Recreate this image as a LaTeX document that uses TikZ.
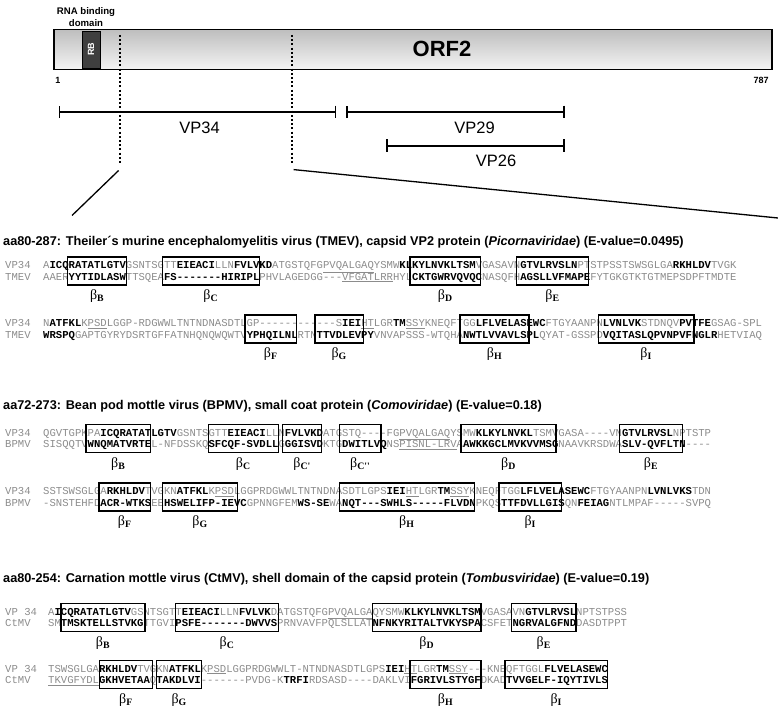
\documentclass[tikz,border=0pt]{standalone}
\usepackage{fontspec}
\setmainfont{Liberation Sans}
\setmonofont{Liberation Mono}
\newfontfamily\grkfont{Liberation Serif}
\usetikzlibrary{arrows.meta,positioning}
\definecolor{seqgrey}{HTML}{8C8C8C}
\definecolor{barhi}{HTML}{F4F4F4}
\definecolor{barlo}{HTML}{BEBEBE}
\definecolor{rbgrey}{HTML}{3F3F3F}
\newcommand{\hb}[1]{{\bfseries\color{black}#1}}
\newcommand{\ud}[1]{\underline{#1}}
\newcommand{\bst}[1]{{\grkfont β\textsubscript{\bfseries #1}}}

\begin{document}
\begin{tikzpicture}[x=1pt,y=-1pt,
  seq/.style={anchor=base west,inner sep=0pt,font=\ttfamily\fontsize{10.6}{10.6}\selectfont,text=seqgrey},
  ttl/.style={anchor=base west,inner sep=0pt,font=\bfseries\fontsize{12.7}{14}\selectfont},
  sbox/.style={draw,line width=1.4pt,inner sep=0pt,minimum height=28pt},
  blab/.style={inner sep=0pt,font=\fontsize{14}{14}\selectfont},
  vplab/.style={font=\fontsize{16.5}{16.5}\selectfont},
  endnum/.style={font=\bfseries\fontsize{9}{9}\selectfont},
  prodline/.style={line width=1.8pt,{Bar[width=12.5pt]}-{Bar[width=12.5pt]}},
  cutline/.style={line width=2pt,dash pattern=on 2pt off 2.2pt},
  zoomline/.style={line width=1.3pt},
]
\useasboundingbox (0,0) rectangle (778,711);

% ORF2 bar
\node[draw=black,line width=1.3pt,top color=barlo,bottom color=barhi,
      minimum width=718pt,minimum height=40pt,inner sep=0pt] (orf) at (413,49.5) {};
\node[font=\bfseries\fontsize{22}{22}\selectfont] (orfname) at (442,49) {ORF2};
\node[fill=rbgrey,draw=black,line width=0.8pt,minimum width=18pt,minimum height=37pt,inner sep=0pt] (rb) at (91,49.5) {};
\node[rotate=90,text=white,font=\bfseries\fontsize{9}{9}\selectfont] (rbname) at (rb) {RB};
\node[font=\bfseries\fontsize{9.6}{11.5}\selectfont,align=center] (rbdom) at (86,17) {RNA binding\\domain};
\node[endnum] (n1) at (58,80) {1};
\node[endnum] (n787) at (761,80) {787};

% cleavage sites and zoom lines
\coordinate (c1t) at (120,35);
\coordinate (c1b) at (120,163);
\coordinate (c2t) at (292,35);
\coordinate (c2b) at (292,163);
\coordinate (z1a) at (118.6,170.5);
\coordinate (z1b) at (72,215.5);
\coordinate (z2a) at (293.6,169.6);
\coordinate (z2b) at (778,218);
\draw[cutline] (c1t) -- (c1b);
\draw[cutline] (c2t) -- (c2b);
\draw[zoomline] (z1a) -- (z1b);
\draw[zoomline] (z2a) -- (z2b);

% capsid products
\coordinate (p34a) at (58.6,111.8);
\coordinate (p34b) at (336.4,111.8);
\coordinate (p29a) at (346,111.8);
\coordinate (p29b) at (564.6,111.8);
\coordinate (p26a) at (386,145.7);
\coordinate (p26b) at (564.6,145.7);
\draw[prodline] (p34a) -- (p34b);
\draw[prodline] (p29a) -- (p29b);
\draw[prodline] (p26a) -- (p26b);
\node[vplab] (vp34) at (199.6,128) {VP34};
\node[vplab] (vp29) at (474.6,128) {VP29};
\node[vplab] (vp26) at (496,161) {VP26};

% ---- TMEV ----
\node[ttl] (t1) at (3,245.5) {aa80-287: Theiler´s murine encephalomyelitis virus (TMEV), capsid VP2 protein (\textit{Picornaviridae}) (E-value=0.0495)};
\node[seq] (n1a) at (5,268.5) {VP34};
\node[seq] (n1b) at (5,280) {TMEV};
\node[seq] (s1a) at (43,268.5) {A\hb{ICQRATATLGTV}GSNTSGTT\hb{EIEACI}LLN\hb{FVLVKD}ATGSTQFG\ud{PVQALGAQ}YSMW\hb{KLKYLNVKLTSM}VGASAVN\hb{GTVLRVSLN}PTSTPSSTSWSGLGA\hb{RKHLDV}TVGK};
\node[seq] (s1b) at (43,280) {AAER\hb{YYTIDLASW}TTSQEA\hb{FS-------HIRIPL}PHVLAGEDGG---\ud{VFGATLRR}HYL\hb{CKTGWRVQVQC}NASQFH\hb{AGSLLVFMAPE}FYTGKGTKTGTMEPSDPFTMDTE};
\node[seq] (n1c) at (5,326.5) {VP34};
\node[seq] (n1d) at (5,338) {TMEV};
\node[seq] (s1c) at (43,326.5) {N\hb{ATFKL}K\ud{PSD}LGGP-RDGWWLTNTNDNASDTLGP------------S\hb{IEI}\ud{HT}LGR\hb{TM}\ud{SSY}KNEQFTGG\hb{LFLVELASEWC}FTGYAANPN\hb{LVNLVK}STDNQV\hb{PVTFE}GSAG-SPL};
\node[seq] (s1d) at (43,338) {\hb{WRSPQ}GAPTGYRYDSRTGFFATNHQNQWQWTV\hb{YPHQILNL}RTN\hb{TTVDLEVPY}VNVAPSSS-WTQHA\hb{NWTLVVAVLSPL}QYAT-GSSPD\hb{VQITASLQPVNPVFNGLR}HETVIAQ};

\node[sbox,minimum width=59pt] (b1B) at (97.2,271) {};
\node[sbox,minimum width=97pt] (b1C) at (210.8,271) {};
\node[sbox,minimum width=70.7pt] (b1D) at (445.3,271) {};
\node[sbox,minimum width=71.6pt] (b1E) at (552.5,271) {};
\node[sbox,minimum width=51.7pt] (b1F) at (270.8,329) {};
\node[sbox,minimum width=48.3pt] (b1G) at (339.2,329) {};
\node[sbox,minimum width=69pt] (b1H) at (494.5,329) {};
\node[sbox,minimum width=95.7pt] (b1I) at (646.2,329) {};
\node[blab,below=4pt of b1B] (l1B) {\bst{B}};
\node[blab,below=4pt of b1C] (l1C) {\bst{C}};
\node[blab,below=4pt of b1D] (l1D) {\bst{D}};
\node[blab,below=4pt of b1E] (l1E) {\bst{E}};
\node[blab,below=4pt of b1F] (l1F) {\bst{F}};
\node[blab,below=4pt of b1G] (l1G) {\bst{G}};
\node[blab,below=4pt of b1H] (l1H) {\bst{H}};
\node[blab,below=4pt of b1I] (l1I) {\bst{I}};

% ---- BPMV ----
\node[ttl] (t2) at (3,409.5) {aa72-273: Bean pod mottle virus (BPMV), small coat protein (\textit{Comoviridae}) (E-value=0.18)};
\node[seq] (n2a) at (5,436) {VP34};
\node[seq] (n2b) at (5,447.5) {BPMV};
\node[seq] (s2a) at (43,436) {QGVTGPKPA\hb{ICQRATATLGTV}GSNTSGTT\hb{EIEACI}LLN\hb{FVLVKD}ATGSTQ----FG\ud{PVQALGAQ}YSMW\hb{KLKYLNVKL}TSMVGASA----VN\hb{GTVLRVSL}NPTSTP};
\node[seq] (s2b) at (43,447.5) {SISQQTV\hb{WNQMATVRTE}L-NFDSSKQ\hb{SFCQF-SVDLL}G\hb{GGISVD}KTG\hb{DWITLVQ}NS\ud{PISNL-LRV}A\hb{AWKKGCLMVKVVMSG}NAAVKRSDWA\hb{SLV-QVFLTN}----};
\node[seq] (n2c) at (5,494.5) {VP34};
\node[seq] (n2d) at (5,506) {BPMV};
\node[seq] (s2c) at (43,494.5) {SSTSWSGLGA\hb{RKHLDV}TVGKN\hb{ATFKL}K\ud{PSD}LGGPRDGWWLTNTNDNASDTLGPS\hb{IEI}\ud{HT}LGR\hb{TM}\ud{SSY}KNEQFTGG\hb{LFLVELASEWC}FTGYAANPN\hb{LVNLVKS}TDN};
\node[seq] (s2d) at (43,506) {-SNSTEHFD\hb{ACR-WTKS}EE\hb{HSWELIFP-IEVC}GPNNGFEM\hb{WS-SE}WA\hb{NQT---SWHLS-----FLVDN}PKQS\hb{TTFDVLLGIS}QN\hb{FEIAG}NTLMPAF-----SVPQ};

\node[sbox,minimum width=64.7pt] (b2B) at (118.3,438.5) {};
\node[sbox,minimum width=70pt] (b2C) at (243.3,438.5) {};
\node[sbox,minimum width=39pt] (b2Ca) at (302.2,438.5) {};
\node[sbox,minimum width=41.7pt] (b2Cb) at (360.2,438.5) {};
\node[sbox,minimum width=95pt] (b2D) at (508.5,438.5) {};
\node[sbox,minimum width=63.4pt] (b2E) at (651,438.5) {};
\node[sbox,minimum width=51.7pt] (b2F) at (124.8,497) {};
\node[sbox,minimum width=75.4pt] (b2G) at (200,497) {};
\node[sbox,minimum width=135pt] (b2H) at (406.8,497) {};
\node[sbox,minimum width=62.7pt] (b2I) at (530.3,497) {};
\node[blab,below=4pt of b2B] (l2B) {\bst{B}};
\node[blab,below=4pt of b2C] (l2C) {\bst{C}};
\node[blab,below=4pt of b2Ca] (l2Ca) {\bst{C'}};
\node[blab,below=4pt of b2Cb] (l2Cb) {\bst{C''}};
\node[blab,below=4pt of b2D] (l2D) {\bst{D}};
\node[blab,below=4pt of b2E] (l2E) {\bst{E}};
\node[blab,below=4pt of b2F] (l2F) {\bst{F}};
\node[blab,below=4pt of b2G] (l2G) {\bst{G}};
\node[blab,below=4pt of b2H] (l2H) {\bst{H}};
\node[blab,below=4pt of b2I] (l2I) {\bst{I}};

% ---- CtMV ----
\node[ttl] (t3) at (3,582) {aa80-254: Carnation mottle virus (CtMV), shell domain of the capsid protein (\textit{Tombusviridae}) (E-value=0.19)};
\node[seq] (n3a) at (5,615) {VP 34};
\node[seq] (n3b) at (5,626.5) {CtMV};
\node[seq] (s3a) at (48,615) {A\hb{ICQRATATLGTV}GSNTSGTT\hb{EIEACI}LLN\hb{FVLVK}DATGSTQFG\ud{PVQALGA}QYSMW\hb{KLKYLNVKLTSM}VGASAVN\hb{GTVLRVSL}NPTSTPSS};
\node[seq] (s3b) at (48,626.5) {SM\hb{TMSKTELLSTVKG}TTGVI\hb{PSFE-------DWVVS}PRNVAVFPQLSLLAT\hb{NFNKYRITALTVKYSPA}CSFET\hb{NGRVALGFND}DASDTPPT};
\node[seq] (n3c) at (5,672) {VP 34};
\node[seq] (n3d) at (5,683.5) {CtMV};
\node[seq] (s3c) at (48,672) {TSWSGLGA\hb{RKHLDV}TVGKN\hb{ATFKL}K\ud{PSD}LGGPRDGWWLT-NTNDNASDTLGPS\hb{IEI}\ud{HT}LGR\hb{TM}\ud{SSY}---KNEQFTGGL\hb{FLVELASEWC}};
\node[seq] (s3d) at (48,683.5) {\ud{TKVGFYDL}\hb{GKHVETAA}Q\hb{TAKDLVI}-------PVDG-K\hb{TRFI}RDSASD----DAKLVI\hb{FGRIVLSTYGF}DKAD\hb{TVVGELF-IQYTIVLS}};

\node[sbox,minimum width=84pt] (b3B) at (103,617.5) {};
\node[sbox,minimum width=102.6pt] (b3C) at (227,617.5) {};
\node[sbox,minimum width=108.3pt] (b3D) at (426.8,617.5) {};
\node[sbox,minimum width=64.3pt] (b3E) at (543.8,617.5) {};
\node[sbox,minimum width=53.4pt] (b3F) at (126,674.5) {};
\node[sbox,minimum width=45pt] (b3G) at (179.2,674.5) {};
\node[sbox,minimum width=71pt] (b3H) at (445.5,674.5) {};
\node[sbox,minimum width=102.7pt] (b3I) at (556.3,674.5) {};
\node[blab,below=4pt of b3B] (l3B) {\bst{B}};
\node[blab,below=4pt of b3C] (l3C) {\bst{C}};
\node[blab,below=4pt of b3D] (l3D) {\bst{D}};
\node[blab,below=4pt of b3E] (l3E) {\bst{E}};
\node[blab,below=4pt of b3F] (l3F) {\bst{F}};
\node[blab,below=4pt of b3G] (l3G) {\bst{G}};
\node[blab,below=4pt of b3H] (l3H) {\bst{H}};
\node[blab,below=4pt of b3I] (l3I) {\bst{I}};
\end{tikzpicture}
\end{document}
